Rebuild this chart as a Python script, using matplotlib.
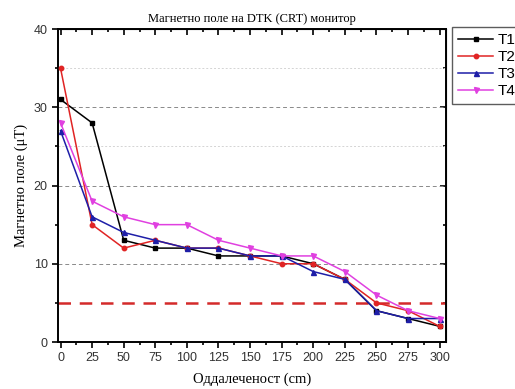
import numpy as np
import matplotlib
matplotlib.use("Agg")
import matplotlib.pyplot as plt
from matplotlib.ticker import MultipleLocator

# растојание (cm)
dist = [0, 25, 50, 75, 100, 125, 150, 175, 200, 225, 250, 275, 300]

# магнетно поле (uT) за секоја мерна точка
t1 = [31, 28, 13, 12, 12, 11, 11, 11, 10, 8, 4, 3, 2]
t2 = [35, 15, 12, 13, 12, 12, 11, 10, 10, 8, 5, 4, 2]
t3 = [27, 16, 14, 13, 12, 12, 11, 11, 9, 8, 4, 3, 3]
t4 = [28, 18, 16, 15, 15, 13, 12, 11, 11, 9, 6, 4, 3]

limit = 5  # гранична вредност

fig = plt.figure(figsize=(5.15, 3.89), dpi=100)
ax = fig.add_axes([0.1126, 0.1208, 0.7534, 0.8046])

serif = "Liberation Serif"
sans = "Liberation Sans"

# помошни хоризонтални линии
for v in [10, 20, 30]:
    ax.axhline(v, color="#8a8a8a", lw=0.7, ls=(0, (4, 3)), zorder=1)
for v in [25, 35]:
    ax.axhline(v, color="#d4d4d4", lw=0.7, ls=(0, (2, 2)), zorder=1)

ax.axhline(limit, color="#d42a2a", lw=1.8, ls=(0, (5, 3.5)), zorder=2)

ax.plot(dist, t1, "-s", color="black", lw=1.1, ms=3.2, label="T1", zorder=3)
ax.plot(dist, t2, "-o", color="#e02424", lw=1.1, ms=3.2, label="T2", zorder=3)
ax.plot(dist, t3, "-^", color="#1e1ea8", lw=1.1, ms=3.6, label="T3", zorder=4)
ax.plot(dist, t4, "-v", color="#e040e0", lw=1.1, ms=3.6, label="T4", zorder=4)

ax.set_xlim(-2, 305)
ax.set_ylim(0, 40)
ax.xaxis.set_major_locator(MultipleLocator(25))
ax.xaxis.set_minor_locator(MultipleLocator(12.5))
ax.yaxis.set_major_locator(MultipleLocator(10))
ax.yaxis.set_minor_locator(MultipleLocator(5))
ax.tick_params(which="both", direction="out", width=1.2)
ax.tick_params(which="major", length=4, labelsize=9)
ax.tick_params(which="minor", length=2.5)
for lbl in ax.get_xticklabels() + ax.get_yticklabels():
    lbl.set_fontfamily(sans)
    lbl.set_color("#333333")
for s in ax.spines.values():
    s.set_linewidth(1.4)

# огледални оски горе и десно
top = ax.secondary_xaxis("top")
top.xaxis.set_major_locator(MultipleLocator(25))
top.xaxis.set_minor_locator(MultipleLocator(12.5))
top.tick_params(which="both", direction="in", labeltop=False, width=1.2)
top.tick_params(which="major", length=4)
top.tick_params(which="minor", length=2.5)
right = ax.secondary_yaxis("right")
right.yaxis.set_major_locator(MultipleLocator(10))
right.yaxis.set_minor_locator(MultipleLocator(5))
right.tick_params(which="both", direction="in", labelright=False, width=1.2)
right.tick_params(which="major", length=4)
right.tick_params(which="minor", length=2.5)

ax.set_title("Магнетно поле на DTK (CRT) монитор", fontsize=9, family=serif, pad=5)
ax.set_xlabel("Оддалеченост (cm)", fontsize=10.5, family=serif, labelpad=6)
ax.set_ylabel("Магнетно поле (μT)", fontsize=10.5, family=serif, labelpad=4)

leg = fig.legend(loc="upper left", bbox_to_anchor=(452 / 515, 1 - 27 / 389),
                 prop={"family": sans, "size": 11}, fancybox=False,
                 edgecolor="#333333", handlelength=2.3, handletextpad=0.3,
                 labelspacing=0.2, borderpad=0.4, borderaxespad=0)
leg.get_frame().set_linewidth(1.0)

fig.savefig("out.png", dpi=100)
